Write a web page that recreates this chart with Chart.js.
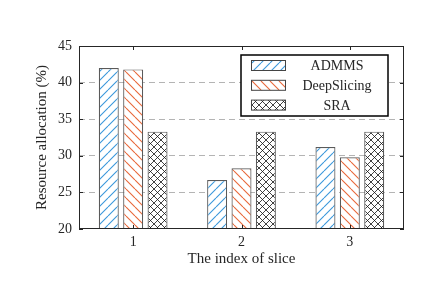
<!DOCTYPE html>
<html>
<head>
<meta charset="utf-8">
<script src="https://cdn.jsdelivr.net/npm/chart.js@4"></script>
<style>
  html, body { margin: 0; padding: 0; background: #fff; }
  #wrap { width: 443px; height: 301px; }
</style>
</head>
<body>
<div id="wrap"><canvas id="chart" width="443" height="301"></canvas></div>
<script>
const slices = ['1', '2', '3'];
const admms = [42.0, 26.7, 31.2];
const deepSlicing = [41.8, 28.3, 29.8];
const sra = [33.3, 33.3, 33.3];
const seriesNames = ['ADMMS', 'DeepSlicing', 'SRA'];
const yMin = 20, yMax = 45, yStep = 5;

const FONT = '"Liberation Serif", "Times New Roman", serif';
const ink = '#262626';

const canvas = document.getElementById('chart');
const ctx = canvas.getContext('2d');

// hatch tiles: '/' , '\' or 'x'
function hatch(color, dir, size, width) {
    const c = document.createElement('canvas');
    c.width = c.height = size;
    const g = c.getContext('2d');
    g.fillStyle = '#fff';
    g.fillRect(0, 0, size, size);
    g.strokeStyle = color;
    g.lineWidth = width;
    g.beginPath();
    const dirs = dir === 'x' ? ['/', '\\'] : [dir];
    dirs.forEach(d => {
        for (const o of [-size, 0, size]) {
            if (d === '/') { g.moveTo(o, size); g.lineTo(o + size, 0); }
            else { g.moveTo(o, 0); g.lineTo(o + size, size); }
        }
    });
    g.stroke();
    return ctx.createPattern(c, 'repeat');
}

const blueHatch = hatch('#3b98dc', '/', 9, 1.1);
const orangeHatch = hatch('#e8683a', '\\', 9, 1.1);
const crossHatch = hatch('#111', 'x', 7, 0.8);

// plot frame with inward ticks
const frame = {
    id: 'frame',
    afterDatasetsDraw(chart) {
        const { left, right, top, bottom } = chart.chartArea;
        const c = chart.ctx;
        c.save();
        c.strokeStyle = ink;
        c.lineWidth = 1;
        c.strokeRect(left + 0.5, top + 0.5, right - left - 1, bottom - top - 1);
        const y = chart.scales.y;
        c.beginPath();
        for (let v = yMin; v <= yMax; v += yStep) {
            const py = Math.round(y.getPixelForValue(v)) + 0.5;
            c.moveTo(left, py); c.lineTo(left + 4, py);
            c.moveTo(right, py); c.lineTo(right - 4, py);
        }
        const x = chart.scales.x;
        slices.forEach((s, i) => {
            const px = Math.round(x.getPixelForValue(i)) + 0.5;
            c.moveTo(px, bottom); c.lineTo(px, bottom - 4);
            c.moveTo(px, top); c.lineTo(px, top + 4);
        });
        c.stroke();
        c.restore();
    }
};

// boxed legend inside the plot
const boxLegend = {
    id: 'boxLegend',
    afterDatasetsDraw(chart) {
        const c = chart.ctx;
        const x0 = 241, y0 = 55, w = 147, h = 61;
        c.save();
        c.fillStyle = '#fff';
        c.fillRect(x0, y0, w, h);
        c.strokeStyle = '#000';
        c.lineWidth = 1.5;
        c.strokeRect(x0, y0, w, h);
        chart.data.datasets.forEach((ds, i) => {
            const cy = y0 + 10.5 + i * 19.8;
            c.fillStyle = ds.backgroundColor;
            c.fillRect(251, cy - 5, 34, 10);
            c.strokeStyle = '#444';
            c.lineWidth = 1;
            c.strokeRect(251.5, cy - 5, 34, 10);
            c.fillStyle = ink;
            c.font = '14px ' + FONT;
            c.textAlign = 'center';
            c.textBaseline = 'middle';
            c.fillText(ds.label, 337, cy + 1);
        });
        c.restore();
    }
};

const barStyle = {
    borderColor: '#5a5a5a',
    borderWidth: 1.2,
    borderSkipped: false,
    categoryPercentage: 0.675,
    barPercentage: 0.82
};

new Chart(ctx, {
    type: 'bar',
    data: {
        labels: slices,
        datasets: [
            { label: seriesNames[0], data: admms, backgroundColor: blueHatch, ...barStyle },
            { label: seriesNames[1], data: deepSlicing, backgroundColor: orangeHatch, ...barStyle },
            { label: seriesNames[2], data: sra, backgroundColor: crossHatch, ...barStyle }
        ]
    },
    options: {
        responsive: false,
        devicePixelRatio: 1,
        animation: false,
        layout: { padding: { left: 29, right: 39, top: 46, bottom: 29 } },
        plugins: {
            legend: { display: false },
            tooltip: { enabled: false }
        },
        scales: {
            x: {
                grid: { display: false, drawTicks: false },
                border: { display: false },
                ticks: { color: ink, font: { family: FONT, size: 14 }, padding: 5 },
                title: {
                    display: true,
                    text: 'The index of slice',
                    color: ink,
                    font: { family: FONT, size: 15 },
                    padding: { top: 4, bottom: 4 }
                },
                afterFit: s => { s.height = 43; }
            },
            y: {
                min: yMin,
                max: yMax,
                ticks: { stepSize: yStep, color: ink, font: { family: FONT, size: 14 }, padding: 7 },
                grid: {
                    drawTicks: false,
                    color: c => (c.tick && (c.tick.value === yMin || c.tick.value === yMax)) ? 'rgba(0,0,0,0)' : '#b4b4b4',
                    lineWidth: 1
                },
                border: { display: false, dash: [6, 4] },
                title: {
                    display: true,
                    text: 'Resource allocation (%)',
                    color: ink,
                    font: { family: FONT, size: 15 },
                    padding: { top: 4, bottom: 4 }
                },
                afterFit: s => { s.width = 50; }
            }
        }
    },
    plugins: [frame, boxLegend]
});
</script>
</body>
</html>
